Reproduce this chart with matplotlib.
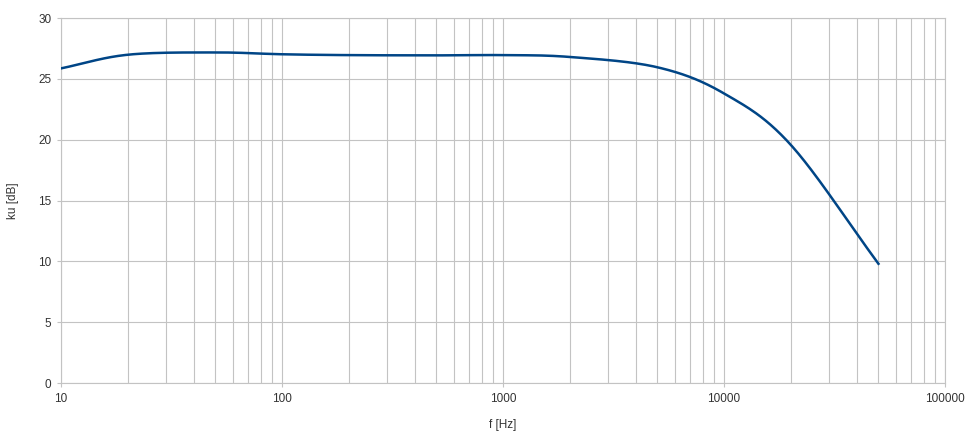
import numpy as np
import matplotlib
matplotlib.use('Agg')
import matplotlib.pyplot as plt
from matplotlib.ticker import LogLocator, FixedLocator, FixedFormatter, NullFormatter

freq = [10, 20, 50, 100, 200, 500, 1000, 2000, 5000, 10000, 20000, 50000]
gain = [25.86, 26.98, 27.17, 27.02, 26.95, 26.93, 26.95, 26.8, 25.95, 23.8, 19.6, 9.8]

x_ticks = [10, 100, 1000, 10000, 100000]
x_labels = ['10', '100', '1000', '10000', '100000']
y_ticks = [0, 5, 10, 15, 20, 25, 30]


def smooth(xs, ys, n=40):
    # catmull-rom through the points in log-x, like the spreadsheet's smoothed line
    lx = np.log10(xs)
    y = np.asarray(ys, float)
    px = np.concatenate([[2 * lx[0] - lx[1]], lx, [2 * lx[-1] - lx[-2]]])
    py = np.concatenate([[2 * y[0] - y[1]], y, [2 * y[-1] - y[-2]]])
    ox, oy = [], []
    t = np.linspace(0, 1, n, endpoint=False)
    for i in range(1, len(px) - 2):
        for arr, out in ((px, ox), (py, oy)):
            p0, p1, p2, p3 = arr[i - 1:i + 3]
            out.extend(0.5 * (2 * p1 + (-p0 + p2) * t
                              + (2 * p0 - 5 * p1 + 4 * p2 - p3) * t ** 2
                              + (-p0 + 3 * p1 - 3 * p2 + p3) * t ** 3))
    ox.append(lx[-1])
    oy.append(y[-1])
    return 10 ** np.array(ox), np.array(oy)


plt.rcParams['font.family'] = ['Liberation Sans', 'DejaVu Sans']

grid_col = '#c3c3c3'
line_col = '#004586'
text_col = '#333333'

fig = plt.figure(figsize=(9.7, 4.34), dpi=100)
ax = fig.add_axes([0.0629, 0.1175, 0.9113, 0.841])

ax.set_xscale('log')
ax.set_xlim(10, 100000)
ax.set_ylim(0, 30)

sx, sy = smooth(freq, gain)
ax.plot(sx, sy, color=line_col, lw=1.8, solid_joinstyle='round', zorder=3)

ax.xaxis.set_major_locator(FixedLocator(x_ticks))
ax.xaxis.set_major_formatter(FixedFormatter(x_labels))
ax.xaxis.set_minor_locator(LogLocator(base=10, subs=np.arange(2, 10)))
ax.xaxis.set_minor_formatter(NullFormatter())
ax.set_yticks(y_ticks)

ax.grid(which='major', color=grid_col, lw=0.8)
ax.grid(which='minor', axis='x', color=grid_col, lw=0.8)

for s in ax.spines.values():
    s.set_color(grid_col)
    s.set_linewidth(0.8)

ax.tick_params(which='both', length=0, labelsize=8.5, colors=text_col, pad=4)
ax.tick_params(axis='y', length=3, color=grid_col, width=0.8)
ax.tick_params(axis='x', which='major', length=3, color=grid_col, width=0.8)

ax.set_xlabel('f [Hz]', fontsize=8.5, labelpad=10, color=text_col)
ax.set_ylabel('ku [dB]', fontsize=8.5, labelpad=14, color=text_col)

fig.savefig('out.png', dpi=100)
